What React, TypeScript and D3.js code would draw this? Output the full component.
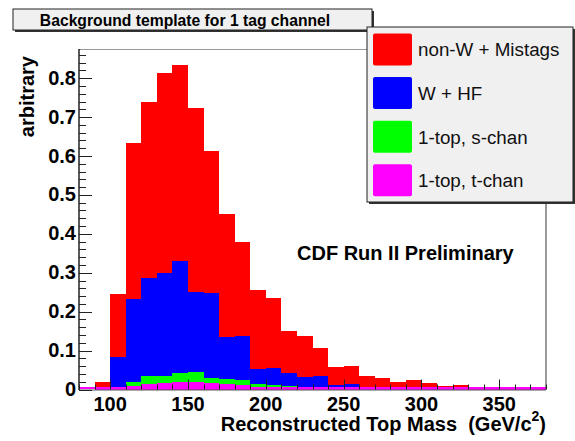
import React from "react";
import * as d3 from "d3";

// Histogram bins: lower edges in GeV/c^2, 10 GeV wide
const binLow = [90, 100, 110, 120, 130, 140, 150, 160, 170, 180, 190, 200, 210, 220, 230, 240, 250, 260, 270, 280, 290, 300, 310, 320, 330, 340, 350, 360, 370];
const binWidth = 10;

// Stacked components (bottom to top)
const tChan = [0.002, 0.005, 0.009, 0.0134, 0.016, 0.019, 0.02, 0.016, 0.014, 0.0116, 0.007, 0.0064, 0.0055, 0.0045, 0.004, 0.003, 0.0025, 0.002, 0.0015, 0.001, 0.001, 0.001, 0.0008, 0.0008, 0.0005, 0.0005, 0.0005, 0.0003, 0.0002];
const sChan = [0.001, 0.002, 0.011, 0.0221, 0.018, 0.0226, 0.025, 0.0128, 0.014, 0.0134, 0.007, 0.0056, 0.0043, 0.003, 0.0024, 0.002, 0.0015, 0.001, 0.001, 0.001, 0.0005, 0.0005, 0.0002, 0.0002, 0.0003, 0.0003, 0.0003, 0.0002, 0.0001];
const wHF = [0.001, 0.077, 0.213, 0.2505, 0.265, 0.2884, 0.206, 0.2182, 0.108, 0.1125, 0.038, 0.0425, 0.0322, 0.0245, 0.0286, 0.0066, 0.011, 0.004, 0.0045, 0.001, 0.0005, 0.0005, 0.0005, 0.0005, 0.0002, 0.0002, 0.0002, 0.0003, 0.0002];
const nonW = [0.015, 0.161, 0.4, 0.452, 0.515, 0.504, 0.472, 0.366, 0.314, 0.2425, 0.203, 0.1795, 0.109, 0.1055, 0.071, 0.047, 0.045, 0.0285, 0.022, 0.0155, 0.0224, 0.0155, 0.0075, 0.0093, 0.0047, 0.002, 0.0054, 0.0012, 0.0005];

const seriesKeys = ["tChan", "sChan", "wHF", "nonW"];
const seriesColors = ["#ff00ff", "#00ff00", "#0000ff", "#ff0000"];

const legendLabels = ["non-W + Mistags", "W + HF", "1-top, s-chan", "1-top, t-chan"];
const legendColors = ["#ff0000", "#0000ff", "#00ff00", "#ff00ff"];

const xMajorTicks = [100, 150, 200, 250, 300, 350];
const yMajorTicks = [0, 0.1, 0.2, 0.3, 0.4, 0.5, 0.6, 0.7, 0.8];

const FONT = "'Liberation Sans', Arial, Helvetica, sans-serif";

export default function App() {
  const W = 575;
  const H = 441;
  const frame = { left: 79, right: 546, top: 49, bottom: 389.5 };

  const x = d3.scaleLinear().domain([80, 380]).range([frame.left, frame.right]);
  const y = d3.scaleLinear().domain([0, 0.875]).range([frame.bottom, frame.top]);

  const rows = binLow.map((lo, i) => ({
    lo,
    tChan: tChan[i],
    sChan: sChan[i],
    wHF: wHF[i],
    nonW: nonW[i],
  }));
  const stacked = d3.stack<any>().keys(seriesKeys)(rows);

  const xMinor = d3.range(80, 381, 10);
  const yMinor = d3.range(0, 0.87, 0.02);

  return (
    <svg width={W} height={H} style={{ position: "absolute", left: 0, top: 0, background: "#fff" }}>
      <rect x={0} y={0} width={W} height={H} fill="#fff" />

      {/* stacked histogram */}
      <g shapeRendering="crispEdges">
        {stacked.map((layer, li) =>
          layer.map((d, bi) => (
            <rect
              key={`${li}-${bi}`}
              x={x(d.data.lo)}
              y={y(d[1])}
              width={x(d.data.lo + binWidth) - x(d.data.lo)}
              height={Math.max(0, y(d[0]) - y(d[1]))}
              fill={seriesColors[li]}
            />
          ))
        )}
      </g>

      {/* zero-level outline of the bottom component */}
      <line x1={frame.left} x2={frame.right} y1={frame.bottom - 1.5} y2={frame.bottom - 1.5} stroke="#ff00ff" strokeWidth={2} />

      {/* frame */}
      <line x1={frame.left} x2={frame.right} y1={frame.top + 0.5} y2={frame.top + 0.5} stroke="#999" strokeWidth={1} />
      <line x1={frame.right} x2={frame.right} y1={frame.top} y2={frame.bottom} stroke="#555" strokeWidth={1.2} />
      <line x1={frame.left} x2={frame.left} y1={frame.top} y2={frame.bottom + 0.5} stroke="#000" strokeWidth={1.3} />
      <line x1={frame.left} x2={frame.right} y1={frame.bottom + 0.5} y2={frame.bottom + 0.5} stroke="#555" strokeWidth={1} />

      {/* x ticks */}
      <g stroke="#222" strokeWidth={1}>
        {xMinor.map((v) => {
          const major = v % 50 === 0;
          return (
            <line
              key={`xt${v}`}
              x1={Math.round(x(v)) + 0.5}
              x2={Math.round(x(v)) + 0.5}
              y1={frame.bottom}
              y2={frame.bottom - (major ? 10 : 5)}
            />
          );
        })}
      </g>
      {/* y ticks */}
      <g stroke="#222" strokeWidth={1}>
        {yMinor.map((v) => {
          const major = Math.abs(v * 10 - Math.round(v * 10)) < 1e-6;
          const yy = Math.round(y(v)) + 0.5;
          return <line key={`yt${v.toFixed(2)}`} x1={frame.left} x2={frame.left + (major ? 13 : 7)} y1={yy} y2={yy} />;
        })}
      </g>

      {/* tick labels */}
      <g fontFamily={FONT} fontWeight="bold" fontSize={20} fill="#000">
        {xMajorTicks.map((v) => (
          <text key={`xl${v}`} x={x(v)} y={411} textAnchor="middle">
            {v}
          </text>
        ))}
        {yMajorTicks.map((v) => (
          <text key={`yl${v}`} x={76} y={y(v) + 6.5} textAnchor="end">
            {v === 0 ? "0" : d3.format(".1f")(v)}
          </text>
        ))}
      </g>

      {/* axis titles */}
      <text x={frame.right} y={431} textAnchor="end" fontFamily={FONT} fontWeight="bold" fontSize={20} style={{ whiteSpace: "pre" }}>
        {"Reconstructed Top Mass \u00a0(GeV/c"}
        <tspan fontSize={14} dy={-10}>2</tspan>
        <tspan dy={10}>)</tspan>
      </text>
      <text
        transform={`translate(34, 56) rotate(-90)`}
        textAnchor="end"
        fontFamily={FONT}
        fontWeight="bold"
        fontSize={20}
      >
        arbitrary
      </text>

      {/* annotation */}
      <text x={297} y={259.5} fontFamily={FONT} fontWeight="bold" fontSize={20}>
        CDF Run II Preliminary
      </text>

      {/* title box */}
      <rect x={15} y={11} width={359} height={21} fill="#333" />
      <rect x={13} y={9} width={359} height={21} fill="#f0f0f0" stroke="#222" strokeWidth={1} />
      <text x={185} y={26} textAnchor="middle" fontFamily={FONT} fontWeight="bold" fontSize={15.7}>
        Background template for 1 tag channel
      </text>

      {/* legend */}
      <rect x={369} y={29} width={206} height={175} fill="#333" />
      <rect x={367} y={27} width={206} height={175} fill="#f0f0f0" stroke="#222" strokeWidth={1} />
      {legendLabels.map((lab, i) => {
        const cy = 49.5 + i * 43.6;
        return (
          <g key={lab}>
            <rect x={373} y={cy - 16} width={39} height={32} rx={2} fill={legendColors[i]} />
            <text x={418} y={cy + 6.8} fontFamily={FONT} fontSize={18.8} fill="#111">
              {lab}
            </text>
          </g>
        );
      })}
    </svg>
  );
}
